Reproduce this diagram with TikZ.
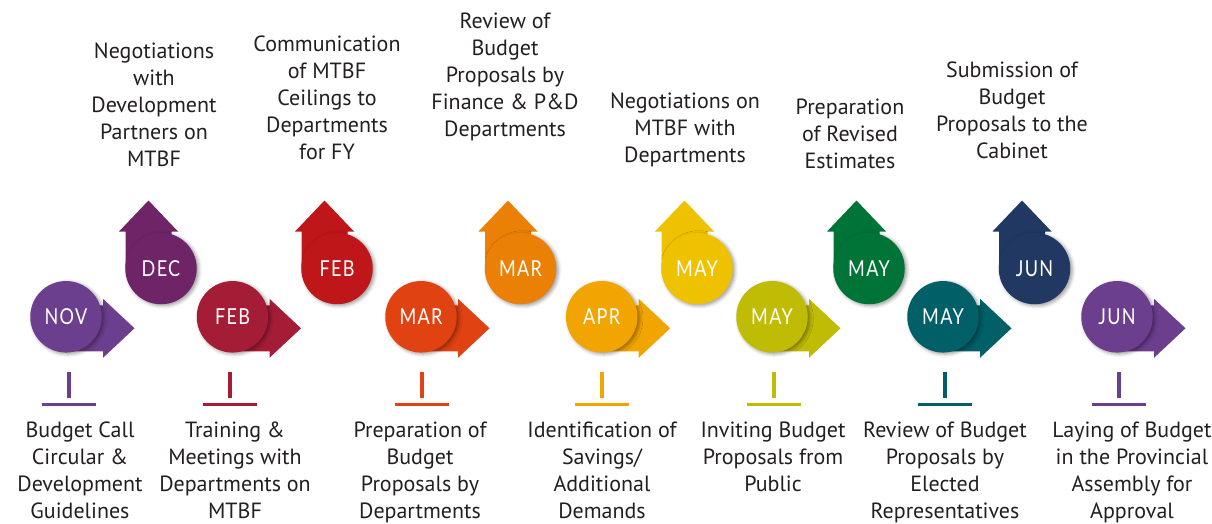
\documentclass[tikz,border=0pt]{standalone}
\usepackage{fontspec}
\setmainfont{PT Sans}
\newfontfamily\monthfont[FakeStretch=0.82,LetterSpace=6]{Lato}
\usetikzlibrary{shadows.blur}
\definecolor{cNov}{HTML}{6B3E8E}
\definecolor{cDec}{HTML}{6E2466}
\definecolor{cFebB}{HTML}{A51C36}
\definecolor{cFebT}{HTML}{BE1619}
\definecolor{cMarB}{HTML}{E04211}
\definecolor{cMarT}{HTML}{EA8006}
\definecolor{cApr}{HTML}{F2A400}
\definecolor{cMayY}{HTML}{EFC200}
\definecolor{cMayO}{HTML}{C0BB05}
\definecolor{cMayG}{HTML}{007437}
\definecolor{cMayT}{HTML}{005F67}
\definecolor{cJunN}{HTML}{213863}
\definecolor{cJunP}{HTML}{6B3E8E}
\definecolor{textc}{HTML}{231F20}
\tikzset{
  disc/.style={circle, inner sep=0pt, minimum size=71.5pt, fill=#1,
    blur shadow={shadow xshift=2pt, shadow yshift=-1.5pt, shadow blur radius=3.5pt, shadow opacity=40},
    text=white, font=\monthfont\fontsize{22}{22}\selectfont},
  desc/.style={font=\fontsize{22}{27}\selectfont, align=center, inner sep=0pt, text=textc},
  tick/.style={draw=#1, line width=3.3pt},
}
% right-pointing step: name, cx, cy, colour, month
\newcommand{\rstep}[5]{%
  \fill[#4] ({#2},{#3+11.5-23}) -- ({#2+37},{#3+11.5-23}) -- ({#2+37},{#3+11.5-29.5})
    -- ({#2+68.5},{#3+11.5}) -- ({#2+37},{#3+11.5+29.5}) -- ({#2+37},{#3+11.5+23})
    -- ({#2},{#3+11.5+23}) -- cycle;
  \node[disc=#4] (#1) at ({#2},{#3}) {#5};
}
% up-pointing step: name, cx, cy, colour, month
\newcommand{\ustep}[5]{%
  \fill[#4] ({#2-12.5-23},{#3}) -- ({#2-12.5-23},{#3-37}) -- ({#2-12.5-29.5},{#3-37})
    -- ({#2-12.5},{#3-68}) -- ({#2-12.5+29.5},{#3-37}) -- ({#2-12.5+23},{#3-37})
    -- ({#2-12.5+23},{#3}) -- cycle;
  \node[disc=#4] (#1) at ({#2},{#3}) {#5};
}
% tick under a bottom step: name, x, colour
\newcommand{\tickmark}[3]{%
  \coordinate (#1t) at ({#2},372);
  \coordinate (#1m) at ({#2},398);
  \coordinate (#1l) at ({#2-27},404.2);
  \coordinate (#1r) at ({#2+27},404.2);
  \draw[tick=#3] (#1t) -- (#1m);
  \draw[tick=#3] (#1l) -- (#1r);
}
\begin{document}
\begin{tikzpicture}[x=1pt, y=-1pt]
\useasboundingbox (0,0) rectangle (1212,524);

% top row
\ustep{dec}{161}{268.5}{cDec}{DEC}
\ustep{febt}{337}{268.5}{cFebT}{FEB}
\ustep{mart}{520.5}{268.5}{cMarT}{MAR}
\ustep{mayy}{697}{268.5}{cMayY}{MAY}
\ustep{mayg}{869}{268.5}{cMayG}{MAY}
\ustep{junn}{1034.5}{268.5}{cJunN}{JUN}

% bottom row
\rstep{nov}{66}{316.8}{cNov}{NOV}
\rstep{febb}{232.5}{316.8}{cFebB}{FEB}
\rstep{marb}{421}{316.8}{cMarB}{MAR}
\rstep{apr}{601.7}{316.8}{cApr}{APR}
\rstep{mayo}{772}{316.8}{cMayO}{MAY}
\rstep{mayt}{943}{316.8}{cMayT}{MAY}
\rstep{junp}{1117}{316.8}{cJunP}{JUN}

\tickmark{nov}{69}{cNov}
\tickmark{febb}{230}{cFebB}
\tickmark{marb}{422}{cMarB}
\tickmark{apr}{602}{cApr}
\tickmark{mayo}{774}{cMayO}
\tickmark{mayt}{945}{cMayT}
\tickmark{junp}{1119}{cJunP}

% top descriptions (last baseline + strut depth)
\node[desc, anchor=south] (tdec) at (154,{166.7+8.1}) {Negotiations\\with\\Development\\Partners on\\MTBF\strut};
\node[desc, anchor=south] (tfeb) at (327,{159.3+8.1}) {Communication\\of MTBF\\Ceilings to\\Departments\\for FY\strut};
\node[desc, anchor=south] (tmar) at (505,{136.7+8.1}) {Review of\\Budget\\Proposals by\\Finance \& P\&D\\Departments\strut};
\node[desc, anchor=south] (tmay) at (685,{162.7+8.1}) {Negotiations on\\MTBF with\\Departments\strut};
\node[desc, anchor=south] (tmayg) at (850,{168.3+8.1}) {Preparation\\of Revised\\Estimates\strut};
\node[desc, anchor=south] (tjun) at (1012,{158.3+8.1}) {Submission of\\Budget\\Proposals to the\\Cabinet\strut};

% bottom descriptions (first baseline - strut height)
\node[desc, anchor=north] (bnov) at (80,{437.3-18.9}) {\strut Budget Call\\Circular \&\\Development\\Guidelines};
\node[desc, anchor=north] (bfeb) at (235,{437.3-18.9}) {\strut Training \&\\Meetings with\\Departments on\\MTBF};
\node[desc, anchor=north] (bmar) at (420,{437.3-18.9}) {\strut Preparation of\\Budget\\Proposals by\\Departments};
\node[desc, anchor=north] (bapr) at (602,{437.3-18.9}) {\strut Identification of\\Savings/\\Additional\\Demands};
\node[desc, anchor=north] (bmayo) at (773,{437.3-18.9}) {\strut Inviting Budget\\Proposals from\\Public};
\node[desc, anchor=north] (bmayt) at (945,{437.3-18.9}) {\strut Review of Budget\\Proposals by\\Elected\\Representatives};
\node[desc, anchor=north] (bjun) at (1132,{437.3-18.9}) {\strut Laying of Budget\\in the Provincial\\Assembly for\\Approval};
\end{tikzpicture}
\end{document}
